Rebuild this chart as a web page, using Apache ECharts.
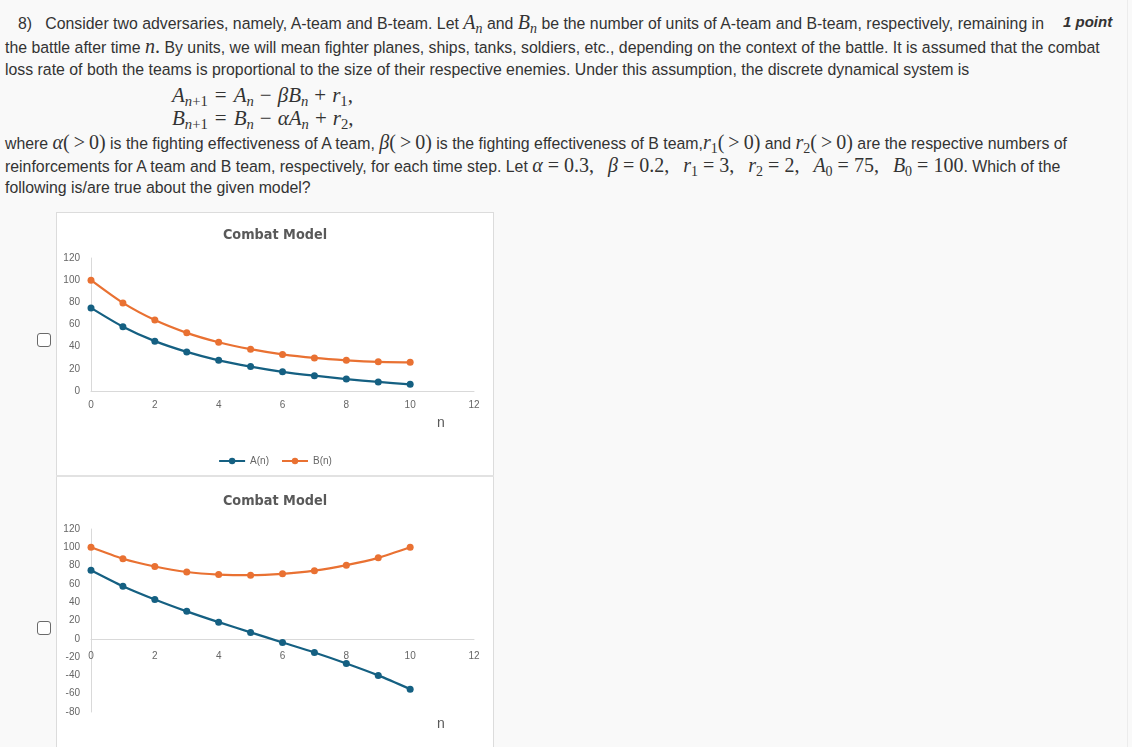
<!DOCTYPE html>
<html>
<head>
<meta charset="utf-8">
<script src="https://cdn.jsdelivr.net/npm/echarts@6/dist/echarts.min.js"></script>
<style>
	html, body { margin: 0; padding: 0; width: 1132px; height: 747px; overflow: hidden; background: #f9f9f9; }
	body { position: relative; font-family: 'Liberation Sans', Arial, sans-serif; font-size: 15.85px; color: #333; }
	.ln { position: absolute; left: 5px; white-space: nowrap; line-height: 24px; }
	.m { font-family: 'Liberation Serif', 'Times New Roman', serif; font-size: 20px; }
	.r { margin: 0 4px; }
	.q { margin: 0 5px; }
	.s { margin-left: 14px; }
	.er { margin: 0 7px; }
	.eb { margin: 0 6px; }
	sub { font-size: 0.7em; vertical-align: -0.3em; line-height: 0; }
	.eq { position: absolute; left: 172px; white-space: nowrap; line-height: 24px; font-family: 'Liberation Serif', serif; font-size: 21px; }
	.pt { position: absolute; left: 1063px; top: 10px; line-height: 24px; font-size: 15px; font-weight: bold; font-style: italic; }
	.box { position: absolute; left: 37px; width: 12px; height: 12px; border: 1.5px solid #6a6a6a; border-radius: 3px; background: #fff; }
	#frame { position: absolute; left: 56px; top: 212px; width: 436px; height: 560px; background: #fff; border: 1px solid #dcdcdc; }
	#sep { position: absolute; left: 56px; top: 475px; width: 438px; height: 2px; background: #e2e2e2; }
	#chart1 { position: absolute; left: 57px; top: 213px; width: 436px; height: 262px; }
	#chart2 { position: absolute; left: 57px; top: 477px; width: 436px; height: 300px; }
	#edge { position: absolute; left: 1127px; top: 0; width: 1px; height: 747px; background: #ececec; }
</style>
</head>
<body>
<div class="ln" style="top:10px"><span style="margin-left:13px">8)</span>&nbsp;&nbsp; Consider two adversaries, namely, A-team and B-team. Let <span class="m"><i>A</i><sub><i>n</i></sub></span> and <span class="m"><i>B</i><sub><i>n</i></sub></span> be the number of units of A-team and B-team, respectively, remaining in</div>
<div class="pt">1 point</div>
<div class="ln" style="top:34px">the battle after time <span class="m"><i>n</i>.</span> By units, we will mean fighter planes, ships, tanks, soldiers, etc., depending on the context of the battle. It is assumed that the combat</div>
<div class="ln" style="top:58px">loss rate of both the teams is proportional to the size of their respective enemies. Under this assumption, the discrete dynamical system is</div>
<div class="eq" style="top:83px"><i>A</i><sub><i>n</i>+1</sub><span class="er">=</span><i>A</i><sub><i>n</i></sub><span class="eb">−</span><i>βB</i><sub><i>n</i></sub><span class="eb">+</span><i>r</i><sub>1</sub>,</div>
<div class="eq" style="top:106px"><i>B</i><sub><i>n</i>+1</sub><span class="er">=</span><i>B</i><sub><i>n</i></sub><span class="eb">−</span><i>αA</i><sub><i>n</i></sub><span class="eb">+</span><i>r</i><sub>2</sub>,</div>
<div class="ln" style="top:130px">where <span class="m"><i>α</i>(<span class="r">&gt;</span>0)</span> is the fighting effectiveness of A team, <span class="m"><i>β</i>(<span class="r">&gt;</span>0)</span> is the fighting effectiveness of B team,<span class="m"><i>r</i><sub>1</sub>(<span class="r">&gt;</span>0)</span> and <span class="m"><i>r</i><sub>2</sub>(<span class="r">&gt;</span>0)</span> are the respective numbers of</div>
<div class="ln" style="top:153px">reinforcements for A team and B team, respectively, for each time step. Let <span class="m"><i>α</i><span class="q">=</span>0.3,<i class="s">β</i><span class="q">=</span>0.2,<i class="s">r</i><sub>1</sub><span class="q">=</span>3,<i class="s">r</i><sub>2</sub><span class="q">=</span>2,<i class="s">A</i><sub>0</sub><span class="q">=</span>75,<i class="s">B</i><sub>0</sub><span class="q">=</span>100</span>. Which of the</div>
<div class="ln" style="top:176px">following is/are true about the given model?</div>

<div id="edge"></div>
<div id="frame"></div>
<div id="sep"></div>
<div class="box" style="top:333px"></div>
<div class="box" style="top:621px"></div>
<div id="chart1"></div>
<div id="chart2"></div>

<script>
	// time steps and the two runs
	var nSteps = [0, 1, 2, 3, 4, 5, 6, 7, 8, 9, 10];
	var aRun1 = [75, 58, 45, 35.3, 27.7, 22, 17.3, 13.8, 10.8, 8.2, 6];
	var bRun1 = [100, 79.5, 64, 52.5, 44, 37.7, 33, 29.8, 27.7, 26.3, 25.9];
	var aRun2 = [75, 57.5, 43, 30, 18.2, 7, -4, -15, -27, -40, -55];
	var bRun2 = [100, 87.5, 79, 73, 70.2, 69.5, 71, 74.5, 80.5, 88.5, 100];
	var seriesNames = ['A(n)', 'B(n)'];
	var colors = ['#156082', '#E97132'];

	function pairs(vals) {
		return nSteps.map(function(n, i) { return [n, vals[i]]; });
	}

	function buildOption(aVals, bVals, box) {
		var labelStyle = { fontFamily: 'Liberation Sans, Arial', fontSize: 10, color: '#666' };
		// the x axis sits on y = 0, labels too
		var zeroOffset = -box.height * (0 - box.yMin) / (120 - box.yMin);
		return {
			animation: false,
			color: colors,
			title: {
				text: 'Combat Model',
				left: 'center',
				top: box.titleTop,
				textStyle: { fontFamily: 'DejaVu Sans Condensed, Liberation Sans Narrow, Arial', fontWeight: 'bold', fontSize: 14.3, color: '#595959' }
			},
			legend: {
				top: box.legendTop,
				left: 'center',
				itemWidth: 26,
				itemHeight: 8,
				itemGap: 12,
				textStyle: labelStyle,
				data: seriesNames
			},
			grid: { left: 34, right: 19, top: box.top, height: box.height },
			xAxis: {
				type: 'value',
				min: 0,
				max: 12,
				interval: 2,
				offset: zeroOffset,
				axisLine: { onZero: false, lineStyle: { color: '#d9d9d9', width: 1 } },
				axisTick: { show: false },
				splitLine: { show: false },
				axisLabel: Object.assign({ margin: box.xMargin }, labelStyle)
			},
			yAxis: {
				type: 'value',
				min: box.yMin,
				max: 120,
				interval: 20,
				axisLine: { show: true, lineStyle: { color: '#d9d9d9', width: 1 } },
				axisTick: { show: false },
				splitLine: { show: false },
				axisLabel: Object.assign({ margin: 11 }, labelStyle)
			},
			graphic: [{
				type: 'text',
				left: 380,
				top: box.nTop,
				style: { text: 'n', fontFamily: 'Liberation Sans, Arial', fontSize: 14, fill: '#595959' }
			}],
			series: [{
				name: seriesNames[0],
				type: 'line',
				smooth: 0.25,
				symbol: 'circle',
				symbolSize: 7,
				lineStyle: { width: 2.25 },
				data: pairs(aVals)
			}, {
				name: seriesNames[1],
				type: 'line',
				smooth: 0.25,
				symbol: 'circle',
				symbolSize: 7,
				lineStyle: { width: 2.25 },
				data: pairs(bVals)
			}]
		};
	}

	var chart1 = echarts.init(document.getElementById('chart1'));
	chart1.setOption(buildOption(aRun1, bRun1, { titleTop: 10, legendTop: 238, top: 45, height: 133, yMin: 0, nTop: 203, xMargin: 9 }));

	var chart2 = echarts.init(document.getElementById('chart2'));
	chart2.setOption(buildOption(aRun2, bRun2, { titleTop: 12, legendTop: 282, top: 52, height: 183, yMin: -80, nTop: 240, xMargin: 12 }));
</script>
</body>
</html>
